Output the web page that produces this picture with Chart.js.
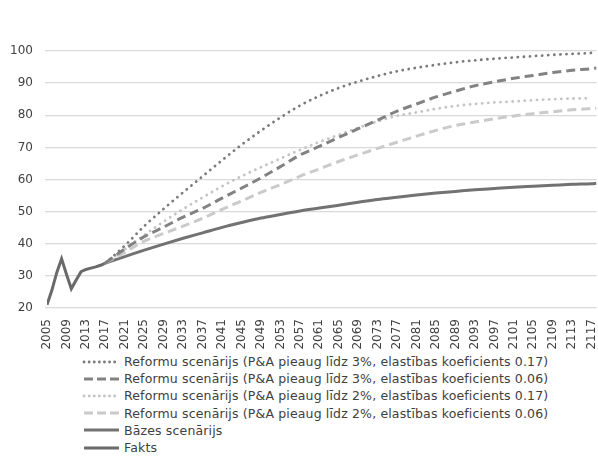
<!DOCTYPE html>
<html>
<head>
<meta charset="utf-8">
<script src="https://cdn.jsdelivr.net/npm/chart.js@4"></script>
<style>
  body { margin: 0; background: #fff; }
  #wrap { position: relative; width: 598px; height: 458px; font-family: "DejaVu Sans", Verdana, sans-serif; }
  #legend { position: absolute; left: 82px; top: 353px; font-size: 12.5px; letter-spacing: 0.15px; color: #404040; }
  .item { height: 17.2px; line-height: 17.2px; display: flex; align-items: center; white-space: nowrap; }
  .item svg { margin-right: 4px; }
</style>
</head>
<body>
<div id="wrap">
  <canvas id="myChart" width="598" height="352"></canvas>
  <div id="legend"></div>
</div>
<script>
// x-axis labels shown every 4 years
const tickYears = [2005, 2009, 2013, 2017, 2021, 2025, 2029, 2033, 2037, 2041, 2045, 2049, 2053, 2057,
  2061, 2065, 2069, 2073, 2077, 2081, 2085, 2089, 2093, 2097, 2101, 2105, 2109, 2113, 2117];

// actual data
const factYears = [2005, 2006, 2007, 2008, 2009, 2010, 2011, 2012, 2013, 2014, 2015, 2016, 2017];
const fakts = [21, 25.5, 31, 35.3, 30.5, 26, 28.7, 31.3, 32, 32.4, 32.8, 33.3, 34];

// projections
const projYears = [2017, 2021, 2025, 2029, 2033, 2037, 2041, 2045, 2049, 2053, 2057, 2061, 2065, 2069,
  2073, 2077, 2081, 2085, 2089, 2093, 2097, 2101, 2105, 2109, 2113, 2117, 2118];
const reform3_017 = [34, 39.4, 45.5, 50.9, 56, 61, 66, 70.8, 75.2, 79.3, 83, 86, 88.5, 90.5,
  92.2, 93.7, 94.8, 95.7, 96.5, 97.1, 97.6, 98, 98.4, 98.8, 99.1, 99.4, 99.5];
const reform3_006 = [34, 38.4, 42.2, 45.2, 48.3, 51, 54.2, 57.3, 60.5, 64, 67.6, 70.3, 73.1, 75.8,
  78.5, 81.3, 83.5, 85.7, 87.5, 89.2, 90.4, 91.5, 92.4, 93.3, 94, 94.5, 94.7];
const reform2_017 = [34, 38.3, 42.7, 46.9, 50.8, 54.4, 57.9, 61, 63.8, 66.5, 69.2, 71.7, 73.9, 76.1,
  78.1, 79.8, 80.9, 82, 82.9, 83.5, 84, 84.3, 84.7, 85, 85.2, 85.3, null];
const reform2_006 = [34, 37.3, 40.8, 43.2, 45.5, 47.9, 50.7, 53.3, 56, 58.4, 61, 63.3, 65.6, 67.7,
  69.7, 71.6, 73.5, 75.3, 76.8, 77.9, 78.9, 79.8, 80.5, 81.1, 81.7, 82.1, 82.2];
const bazes = [34, 36, 38, 39.9, 41.7, 43.4, 45.1, 46.6, 48, 49.1, 50.2, 51.1, 52, 52.9,
  53.8, 54.5, 55.2, 55.8, 56.3, 56.8, 57.2, 57.6, 57.9, 58.2, 58.5, 58.7, 58.8];

function points(xs, ys) {
    return xs.map((x, i) => ({ x: x, y: ys[i] }));
}

const dotted = { borderWidth: 2.8, borderDash: [0.1, 6], borderCapStyle: 'round', legendDash: '0.1 5' };
const dashed = { borderWidth: 3, borderDash: [9, 5], borderCapStyle: 'butt', legendDash: '9 4' };

const datasets = [
    { label: 'Reformu scenārijs (P&A pieaug līdz 3%, elastības koeficients 0.17)', data: points(projYears, reform3_017), borderColor: '#7b7b7b', ...dotted },
    { label: 'Reformu scenārijs (P&A pieaug līdz 3%, elastības koeficients 0.06)', data: points(projYears, reform3_006), borderColor: '#828282', ...dashed },
    { label: 'Reformu scenārijs (P&A pieaug līdz 2%, elastības koeficients 0.17)', data: points(projYears, reform2_017), borderColor: '#c4c4c4', ...dotted },
    { label: 'Reformu scenārijs (P&A pieaug līdz 2%, elastības koeficients 0.06)', data: points(projYears, reform2_006), borderColor: '#cacaca', ...dashed },
    { label: 'Bāzes scenārijs', data: points(projYears, bazes), borderColor: '#727272', borderWidth: 3, legendDash: '' },
    { label: 'Fakts', data: points(factYears, fakts), borderColor: '#6a6a6a', borderWidth: 3, tension: 0, legendDash: '' }
];

datasets.forEach(ds => {
    ds.pointRadius = 0;
    ds.fill = false;
    if (ds.label !== 'Fakts') ds.cubicInterpolationMode = 'monotone';
});

const ctx = document.getElementById('myChart');

const chart = new Chart(ctx, {
    type: 'line',
    data: { datasets: datasets },
    options: {
        responsive: false,
        animation: false,
        devicePixelRatio: 1,
        layout: { padding: { top: 51, right: 1.5, left: 0, bottom: 0 } },
        plugins: { legend: { display: false }, tooltip: { enabled: false } },
        scales: {
            x: {
                type: 'linear',
                min: 2005,
                max: 2118,
                grid: { display: false, drawTicks: false },
                border: { display: false },
                afterBuildTicks: (scale) => { scale.ticks = tickYears.map(v => ({ value: v })); },
                afterFit: (scale) => {
                    scale.height = 44;
                    scale.paddingLeft = 0;
                    scale.paddingRight = 0;
                },
                ticks: {
                    autoSkip: false,
                    minRotation: 90,
                    maxRotation: 90,
                    padding: 11,
                    color: '#404040',
                    font: { family: 'DejaVu Sans', size: 12 },
                    callback: (v) => String(v)
                }
            },
            y: {
                min: 20,
                max: 100,
                grid: { color: '#d9d9d9', lineWidth: 1.3, tickLength: 2 },
                border: { display: false },
                afterFit: (scale) => { scale.width = 47; },
                ticks: {
                    stepSize: 10,
                    padding: 12,
                    color: '#404040',
                    font: { family: 'DejaVu Sans', size: 12 }
                }
            }
        }
    }
});

// legend as one item per row, like the original
const legend = document.getElementById('legend');
datasets.forEach(ds => {
    const row = document.createElement('div');
    row.className = 'item';
    const cap = ds.borderCapStyle === 'round' ? 'round' : 'butt';
    row.innerHTML = `<svg width="38" height="6"><line x1="2" y1="3" x2="37" y2="3" stroke="${ds.borderColor}" stroke-width="${ds.borderWidth}" stroke-linecap="${cap}" stroke-dasharray="${ds.legendDash}"/></svg><span>${ds.label.replace('&', '&amp;')}</span>`;
    legend.appendChild(row);
});
</script>
</body>
</html>
